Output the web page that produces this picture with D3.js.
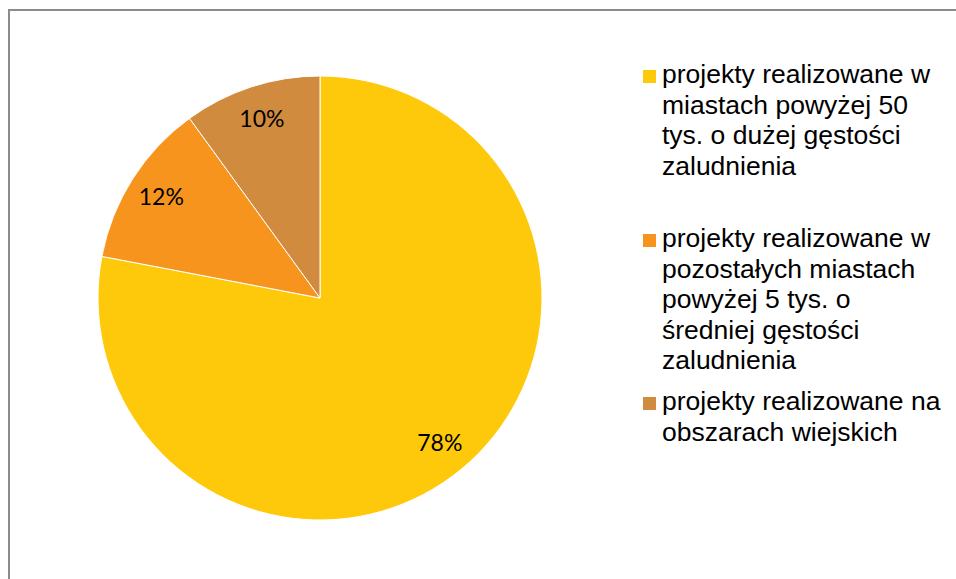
<!DOCTYPE html>
<html>
<head>
<meta charset="utf-8">
<script src="https://cdn.jsdelivr.net/npm/d3@7"></script>
<style>
  html, body { margin: 0; padding: 0; background: #fff; }
  svg { display: block; }
</style>
</head>
<body>
<svg id="chart" width="956" height="579"></svg>
<script>
// Share of projects by type of area
const categories = [
  "projekty realizowane w\nmiastach powyżej 50\ntys. o dużej gęstości\nzaludnienia",
  "projekty realizowane w\npozostałych miastach\npowyżej 5 tys. o\nśredniej gęstości\nzaludnienia",
  "projekty realizowane na\nobszarach wiejskich"
];
const values = [78, 12, 10];
const valueLabels = ["78%", "12%", "10%"];
const colors = ["#FFC90B", "#F7941E", "#D08B3E"];

const svg = d3.select("#chart");

// chart frame
svg.append("path")
  .attr("d", "M9,579 V10 H956")
  .attr("fill", "none")
  .attr("stroke", "#8c8c8c")
  .attr("stroke-width", 2);

const cx = 320, cy = 298, radius = 222, labelRadius = 188;

const pie = d3.pie().sort(null).value(d => d)
  .startAngle(0).endAngle(2 * Math.PI);
const arcs = pie(values);
const arc = d3.arc().innerRadius(0).outerRadius(radius);
const labelArc = d3.arc().innerRadius(labelRadius).outerRadius(labelRadius);

const g = svg.append("g").attr("transform", `translate(${cx},${cy})`);

g.selectAll("path.slice")
  .data(arcs)
  .join("path")
  .attr("class", "slice")
  .attr("d", arc)
  .attr("fill", (d, i) => colors[i])
  .attr("stroke", "#ffffff")
  .attr("stroke-width", 1);

g.selectAll("text.value")
  .data(arcs)
  .join("text")
  .attr("class", "value")
  .attr("transform", d => `translate(${labelArc.centroid(d)})`)
  .attr("text-anchor", "middle")
  .attr("dy", "0.35em")
  .attr("font-family", "Lato, 'Open Sans', sans-serif")
  .attr("font-size", 23)
  .attr("fill", "#000")
  .text((d, i) => valueLabels[i]);

// legend
const legendX = 643, textX = 662, lineH = 30.5;
const legendBaselines = [83, 247, 410];
const legend = svg.append("g");
categories.forEach((name, i) => {
  const y0 = legendBaselines[i];
  legend.append("rect")
    .attr("x", legendX).attr("y", y0 - 13)
    .attr("width", 13).attr("height", 13)
    .attr("fill", colors[i]);
  const t = legend.append("text")
    .attr("x", textX).attr("y", y0)
    .attr("font-family", "'Liberation Sans', Arial, sans-serif")
    .attr("font-size", 26.5)
    .attr("fill", "#000");
  name.split("\n").forEach((line, j) => {
    t.append("tspan")
      .attr("x", textX)
      .attr("y", y0 + j * lineH)
      .text(line);
  });
});
</script>
</body>
</html>
